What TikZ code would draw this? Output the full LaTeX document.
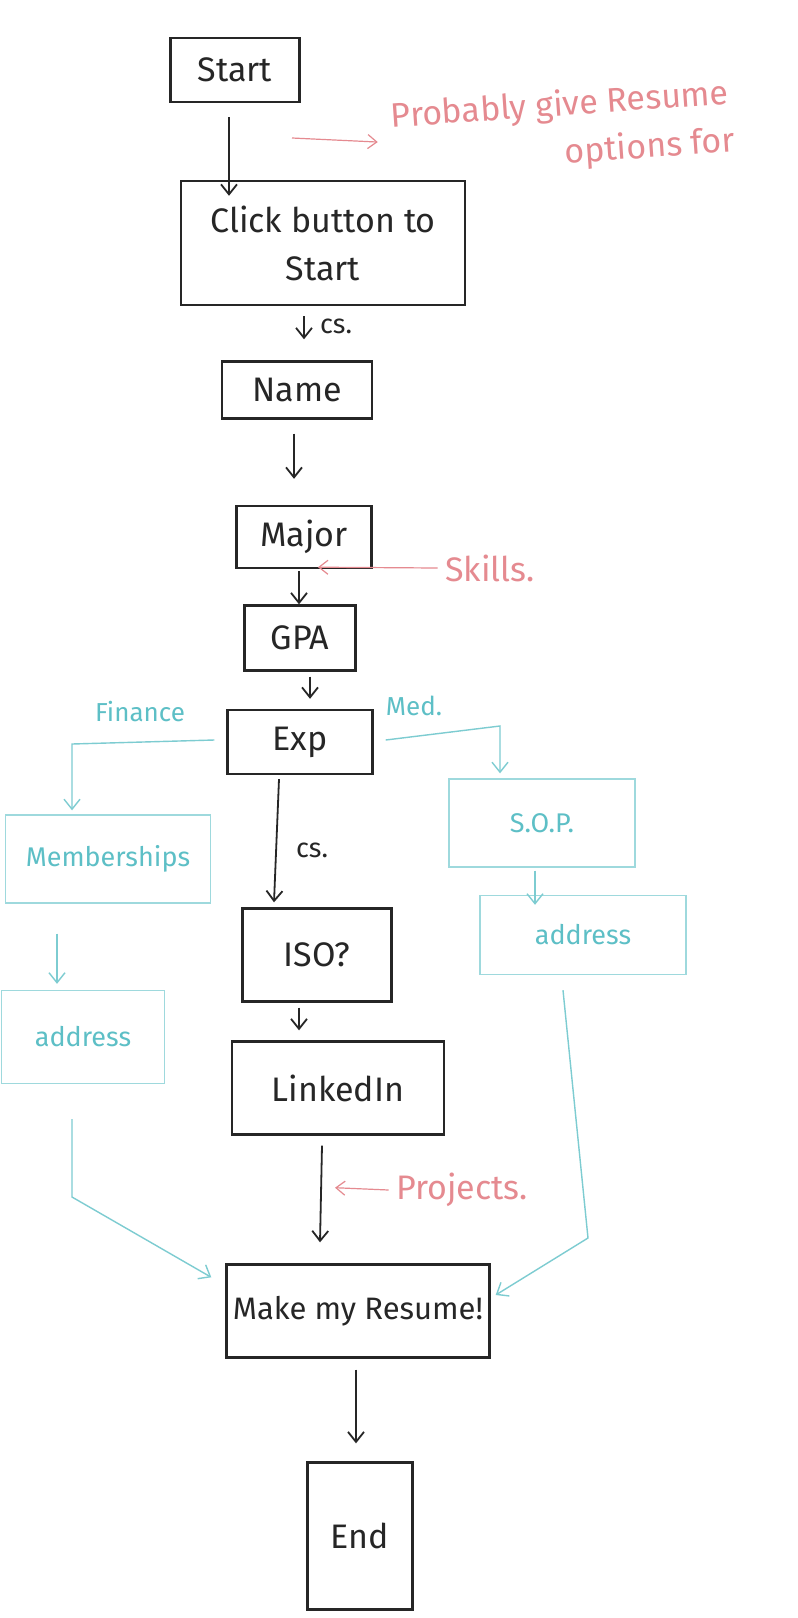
\documentclass[tikz,border=0pt]{standalone}
\usepackage{fontspec}
\setmainfont{Fira Sans}
\usetikzlibrary{arrows.meta}
\definecolor{cyanc}{HTML}{5DBFC6}
\definecolor{redc}{HTML}{E58A90}
\definecolor{inkc}{HTML}{262626}
\begin{document}
\begin{tikzpicture}[x=1pt,y=-1pt,
  box/.style={draw=inkc,line width=2.4pt,text=inkc,align=center,inner sep=2pt,font=\fontsize{34}{38}\selectfont},
  cbox/.style={draw=cyanc!60,line width=1.4pt,text=cyanc,align=center,inner sep=2pt,font=\fontsize{27}{30}\selectfont},
  arr/.style={draw=inkc,line width=1.8pt,-{Straight Barb[length=10pt,width=16pt]}},
  carr/.style={draw=cyanc!80,line width=1.4pt,-{Straight Barb[length=10pt,width=16pt]}},
  rarr/.style={draw=redc,line width=1.2pt,-{Straight Barb[length=9pt,width=14pt]}},
  ink/.style={text=inkc,font=\fontsize{27}{30}\selectfont},
  ctext/.style={text=cyanc,font=\fontsize{26}{29}\selectfont,inner sep=1pt},
  rtext/.style={text=redc,font=\fontsize{34}{38}\selectfont}]
\useasboundingbox (0,0) rectangle (798,1618);
\fill[white] (0,0) rectangle (798,1618);

% main nodes
\node[box,minimum width=129pt,minimum height=64pt] (start) at (235,70) {Start};
\node[box,minimum width=284pt,minimum height=124pt] (click) at (323,243) {Click button to\\[10pt]Start};
\node[box,minimum width=150pt,minimum height=57pt] (name) at (297,390) {Name};
\node[box,minimum width=135pt,minimum height=62pt] (major) at (304,537) {Major};
\node[box,minimum width=111pt,minimum height=65pt] (gpa) at (300,638) {GPA};
\node[box,minimum width=145pt,minimum height=64pt] (exp) at (300,742) {Exp};
\node[box,minimum width=149pt,minimum height=93pt] (iso) at (317,955) {ISO?};
\node[box,minimum width=212pt,minimum height=93pt] (linked) at (338,1088) {LinkedIn};
\node[box,minimum width=263pt,minimum height=93pt,font=\fontsize{31}{35}\selectfont] (make) at (358,1311) {Make my Resume!};
\node[box,minimum width=105pt,minimum height=147pt] (end) at (360,1536) {End};

% cyan branches
\node[cbox,minimum width=205pt,minimum height=88pt] (mem) at (108,859) {Memberships};
\node[cbox,minimum width=186pt,minimum height=88pt] (sop) at (542,823) {S.O.P.};
\node[cbox,minimum width=206pt,minimum height=79pt] (addrR) at (583,935) {address};
\node[cbox,minimum width=163pt,minimum height=93pt] (addrL) at (83,1037) {address};

% annotations
\node[ink] (cs1) at (336,326) {cs.};
\node[ink] (cs2) at (312,850) {cs.};
\node[ctext] (fin) at (140,712) {Finance};
\node[ctext] (med) at (414,706) {Med.};
\node[rtext] (skills) at (490,568) {Skills.};
\node[rtext] (proj) at (462,1190) {Projects.};
\node[rtext,rotate=4] (prob) at (560,106) {Probably give Resume};
\node[rtext,rotate=4] (opt) at (650,148) {options for};
\coordinate (probArr) at (292,138);

% black arrows
\draw[arr] ([xshift=-6pt,yshift=-14pt]start.south) -- ([xshift=-94pt,yshift=-16pt]click.north);
\draw[arr] ([xshift=-19pt,yshift=-10pt]click.south) -- ([xshift=7pt,yshift=21pt]name.north);
\draw[arr] ([xshift=-3pt,yshift=-14pt]name.south) -- ([xshift=-10pt,yshift=26pt]major.north);
\draw[arr] ([xshift=-5pt,yshift=-2pt]major.south) -- ([xshift=-1pt,yshift=0pt]gpa.north);
\draw[arr] ([xshift=10pt,yshift=-5pt]gpa.south) -- ([xshift=10pt,yshift=10pt]exp.north);
\draw[arr] ([xshift=-21pt,yshift=-4pt]exp.south) -- ([xshift=-43pt,yshift=5pt]iso.north);
\draw[arr] ([xshift=-18pt,yshift=-5pt]iso.south) -- ([xshift=-39pt,yshift=10pt]linked.north);
\draw[arr] ([xshift=-16pt,yshift=-10pt]linked.south) -- ([xshift=-38pt,yshift=21pt]make.north);
\draw[arr] ([xshift=-2pt,yshift=-11pt]make.south) -- ([xshift=-4pt,yshift=18pt]end.north);

% red arrows
\draw[rarr] ([xshift=-4pt]skills.west) -- ([xshift=14pt,yshift=2pt]major.south);
\draw[rarr] ([xshift=-4pt]proj.west) -- ([xshift=-3pt,yshift=-52pt]linked.south);
\draw[rarr] (probArr) -- ([xshift=-10pt,yshift=-24pt]prob.west);

% cyan arrows
\draw[carr] ([xshift=-12pt,yshift=2pt]exp.west) -- (72,744) -- ([xshift=-36pt,yshift=4pt]mem.north);
\draw[carr] ([xshift=12pt,yshift=2pt]exp.east) -- (500,726) -- ([xshift=-42pt,yshift=5pt]sop.north);
\draw[carr] ([xshift=-51pt,yshift=-30pt]mem.south) -- ([xshift=-26pt,yshift=6pt]addrL.north);
\draw[carr] ([xshift=-7pt,yshift=-3pt]sop.south) -- ([xshift=-48pt,yshift=-10pt]addrR.north);
\draw[carr] ([xshift=-11pt,yshift=-35pt]addrL.south) -- (72,1197) -- ([xshift=-14pt,yshift=-14pt]make.north west);
\draw[carr] ([xshift=-20pt,yshift=-15pt]addrR.south) -- (588,1238) -- ([xshift=5pt,yshift=16pt]make.east);
\end{tikzpicture}
\end{document}
